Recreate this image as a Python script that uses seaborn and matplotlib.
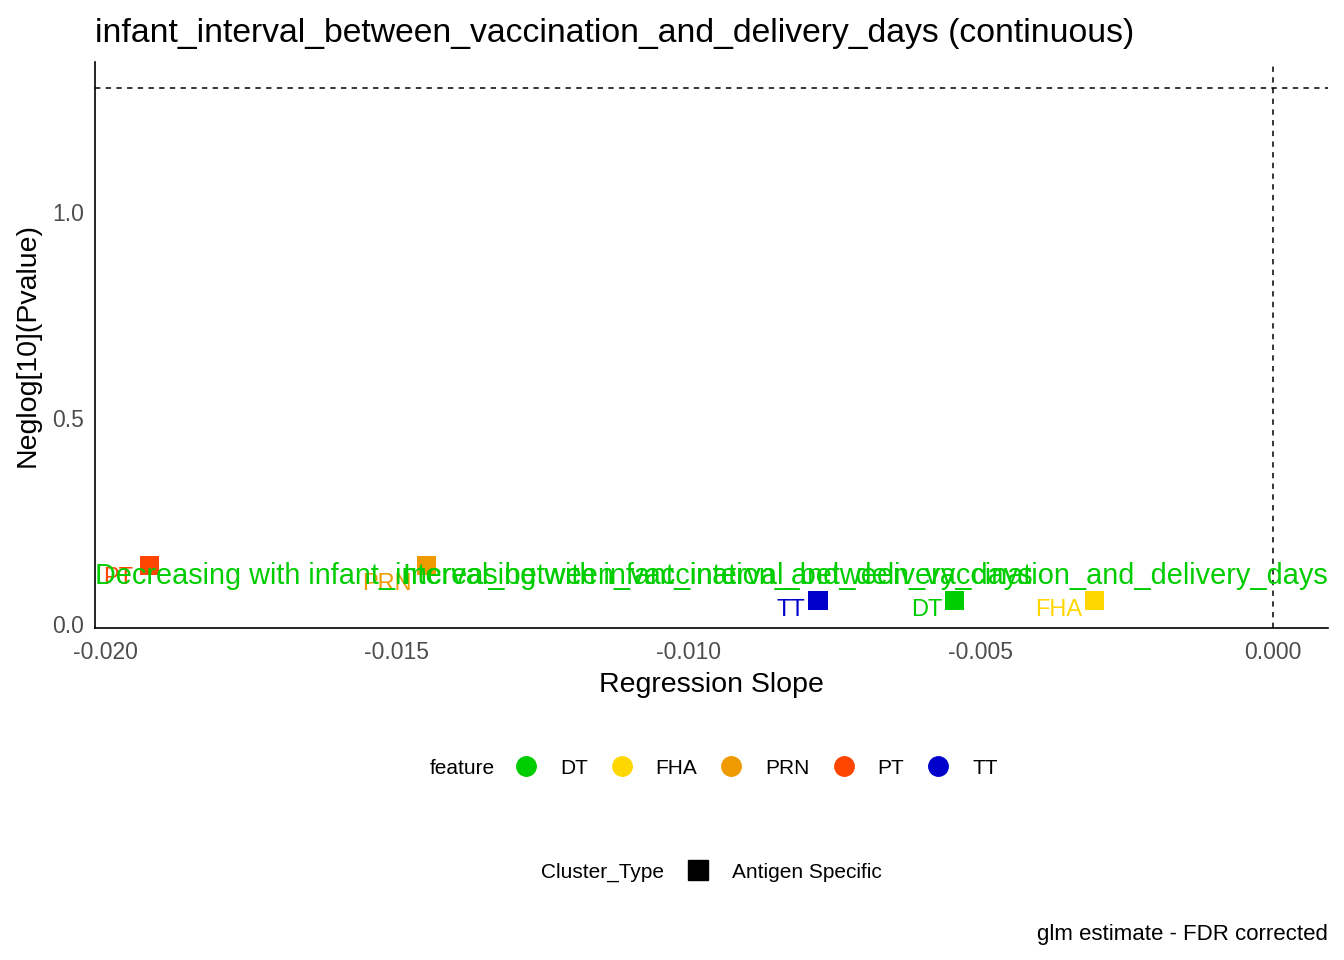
import numpy as np
import matplotlib.pyplot as plt
import matplotlib.lines as mlines
import seaborn as sns
import pandas as pd

sns.set_style("white")
plt.rcParams['font.family'] = ['Liberation Sans', 'DejaVu Sans']
plt.rcParams['text.color'] = 'black'
plt.rcParams['axes.labelcolor'] = 'black'

# data
features = ['DT', 'FHA', 'PRN', 'PT', 'TT']
slopes = [-0.00545, -0.00305, -0.01449, -0.01923, -0.00779]
neglog_p = [0.056, 0.056, 0.141, 0.141, 0.056]
colors = {'DT': '#00CD00', 'FHA': '#FFD700', 'PRN': '#EE9A00', 'PT': '#FF4500', 'TT': '#0000CD'}
sig_line = -np.log10(0.05)

df = pd.DataFrame({'feature': features, 'slope': slopes, 'neglogp': neglog_p})

fig = plt.figure(figsize=(13.44, 9.6), dpi=100)
ax = fig.add_axes([0.0707, 0.346, 0.9173, 0.589])

sns.scatterplot(data=df, x='slope', y='neglogp', hue='feature', palette=colors,
                marker='s', s=190, linewidth=0, ax=ax, legend=False, zorder=3)

# repelled label nudges (points)
nudge = {'DT': (-9, -6.5), 'FHA': (-9, -6.5), 'PRN': (-11, -13), 'PT': (-12, -9), 'TT': (-9, -6.5)}
for f, x, y in zip(features, slopes, neglog_p):
    ax.annotate(f, (x, y), xytext=nudge[f], textcoords='offset points',
                ha='right', va='center', color=colors[f], fontsize=17)

ax.axhline(sig_line, color='black', linestyle=(0, (3.5, 3.5)), linewidth=1.1)
ax.axvline(0, color='black', linestyle=(0, (3.5, 3.5)), linewidth=1.1)

ax.set_xlim(-0.02017, 0.00094)
ax.set_ylim(-0.01, 1.364)
ax.text(0, 0.117, 'Decreasing with infant_interval_between_vaccination_and_delivery_days',
        transform=ax.get_yaxis_transform(), ha='left', va='center', color='#00CD00', fontsize=20.8)
ax.text(1, 0.117, 'Increasing with infant_interval_between_vaccination_and_delivery_days',
        transform=ax.get_yaxis_transform(), ha='right', va='center', color='#00CD00', fontsize=20.8)

ax.set_xticks([-0.020, -0.015, -0.010, -0.005, 0.000])
ax.set_xticklabels(['-0.020', '-0.015', '-0.010', '-0.005', '0.000'])
ax.set_yticks([0.0, 0.5, 1.0])
ax.set_yticklabels(['0.0', '0.5', '1.0'])
ax.tick_params(axis='both', labelsize=16.5, labelcolor='#4D4D4D', color='black',
               length=5, width=1.1, direction='out', pad=3)
ax.tick_params(axis='x', pad=4.5)
for side in ['top', 'right']:
    ax.spines[side].set_visible(False)
for side in ['left', 'bottom']:
    ax.spines[side].set_linewidth(1.2)
    ax.spines[side].set_color('black')

ax.set_xlabel('Regression Slope', fontsize=20.5, labelpad=6)
ax.set_ylabel('Neglog[10](Pvalue)', fontsize=20.5, labelpad=8)
ax.set_title('infant_interval_between_vaccination_and_delivery_days (continuous)',
             loc='left', fontsize=24.3, pad=15)

# legends
feat_handles = [mlines.Line2D([], [], color=colors[f], marker='o', linestyle='None',
                              markersize=14) for f in features]
fig.legend(feat_handles, features, ncol=5, loc='center', bbox_to_anchor=(0.563, 0.2),
           frameon=False, fontsize=15, handlelength=1.0, handletextpad=1.13, columnspacing=1.13)
fig.text(0.344, 0.2, 'feature', ha='center', va='center', fontsize=15)

sq = mlines.Line2D([], [], color='black', marker='s', linestyle='None', markersize=14)
fig.legend([sq], ['Antigen Specific'], loc='center', bbox_to_anchor=(0.584, 0.0915),
           frameon=False, fontsize=15, handlelength=1.0, handletextpad=1.13)
fig.text(0.448, 0.0915, 'Cluster_Type', ha='center', va='center', fontsize=15)

fig.text(0.988, 0.027, 'glm estimate - FDR corrected', ha='right', va='center', fontsize=16)

fig.savefig('out.png', dpi=100)
